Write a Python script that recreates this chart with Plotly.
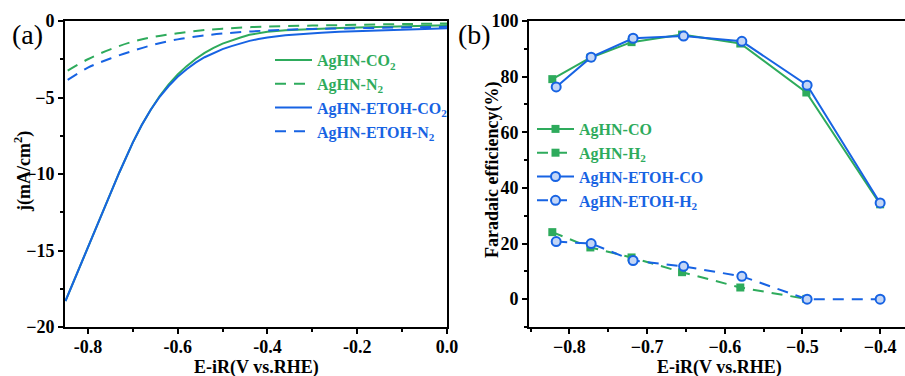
import plotly.graph_objects as go

GREEN = "#2eab5c"
BLUE = "#1763e3"
FONT = "Liberation Serif"

# ---- (a) LSV curves ----
lsv_x = [-0.85, -0.82, -0.79, -0.76, -0.73, -0.70, -0.68, -0.66, -0.64, -0.62,
         -0.60, -0.58, -0.56, -0.54, -0.52, -0.50, -0.48, -0.46, -0.44, -0.42,
         -0.40, -0.36, -0.32, -0.28, -0.24, -0.20, -0.15, -0.10, -0.05, 0.0]
aghn_co2 = [-18.3, -16.2, -14.1, -12.0, -9.9, -7.95, -6.8, -5.8, -4.9, -4.15,
            -3.5, -2.95, -2.48, -2.08, -1.75, -1.48, -1.26, -1.08, -0.9, -0.79,
            -0.71, -0.6, -0.54, -0.49, -0.45, -0.42, -0.38, -0.34, -0.3, -0.27]
aghn_etoh_co2 = [-18.3, -16.2, -14.1, -12.0, -9.9, -7.95, -6.8, -5.8, -4.95, -4.25,
                 -3.65, -3.15, -2.72, -2.37, -2.08, -1.84, -1.64, -1.45, -1.3, -1.18,
                 -1.08, -0.93, -0.83, -0.76, -0.71, -0.66, -0.61, -0.56, -0.52, -0.48]

lsv_x_n2 = [-0.845, -0.80, -0.75, -0.70, -0.65, -0.60, -0.55, -0.50, -0.40, -0.30, -0.20, -0.10, 0.0]
aghn_n2 = [-3.25, -2.5, -1.85, -1.35, -1.02, -0.8, -0.62, -0.5, -0.36, -0.3, -0.25, -0.2, -0.16]
aghn_etoh_n2 = [-3.85, -3.05, -2.45, -1.95, -1.52, -1.2, -0.98, -0.82, -0.62, -0.52, -0.47, -0.42, -0.38]

# ---- (b) Faradaic efficiency ----
fe_x_aghn = [-0.822, -0.773, -0.720, -0.655, -0.580, -0.495, -0.400]
fe_co_aghn = [79.1, 86.8, 92.4, 95.1, 91.9, 74.3, 34.1]
fe_x_aghn_h2 = [-0.822, -0.773, -0.720, -0.655, -0.580, -0.495]
fe_h2_aghn = [24.1, 18.6, 15.0, 9.7, 4.2, 0.1]

fe_x_etoh = [-0.817, -0.772, -0.718, -0.653, -0.578, -0.494, -0.400]
fe_co_etoh = [76.3, 87.0, 93.8, 94.6, 92.7, 76.9, 34.6]
fe_h2_etoh = [20.7, 20.0, 13.9, 11.8, 8.2, 0.0, 0.0]


def label(text, color):
    return f"<span style='color:{color}'><b>{text}</b></span>"


DASH = "11px,8px"
fig = go.Figure()

# panel (a)
fig.add_trace(go.Scatter(x=lsv_x, y=aghn_co2, mode="lines", line=dict(color=GREEN, width=2),
                         name=label("AgHN-CO<sub>2</sub>", GREEN), xaxis="x", yaxis="y", legend="legend"))
fig.add_trace(go.Scatter(x=lsv_x_n2, y=aghn_n2, mode="lines", line=dict(color=GREEN, width=2, dash=DASH, shape="spline"),
                         name=label("AgHN-N<sub>2</sub>", GREEN), xaxis="x", yaxis="y", legend="legend"))
fig.add_trace(go.Scatter(x=lsv_x, y=aghn_etoh_co2, mode="lines", line=dict(color=BLUE, width=2),
                         name=label("AgHN-ETOH-CO<sub>2</sub>", BLUE), xaxis="x", yaxis="y", legend="legend"))
fig.add_trace(go.Scatter(x=lsv_x_n2, y=aghn_etoh_n2, mode="lines", line=dict(color=BLUE, width=2, dash=DASH, shape="spline"),
                         name=label("AgHN-ETOH-N<sub>2</sub>", BLUE), xaxis="x", yaxis="y", legend="legend"))

# panel (b)
sq = dict(symbol="square", size=8, color=GREEN)
circ = dict(symbol="circle", size=9, color="#c4d6f6", line=dict(color=BLUE, width=2))
fig.add_trace(go.Scatter(x=fe_x_aghn, y=fe_co_aghn, mode="lines+markers", line=dict(color=GREEN, width=2), marker=sq,
                         name=label("AgHN-CO", GREEN), xaxis="x2", yaxis="y2", legend="legend2"))
fig.add_trace(go.Scatter(x=fe_x_aghn_h2, y=fe_h2_aghn, mode="lines+markers", line=dict(color=GREEN, width=2, dash=DASH), marker=sq,
                         name=label("AgHN-H<sub>2</sub>", GREEN), xaxis="x2", yaxis="y2", legend="legend2"))
fig.add_trace(go.Scatter(x=fe_x_etoh, y=fe_co_etoh, mode="lines+markers", line=dict(color=BLUE, width=2), marker=circ,
                         name=label("AgHN-ETOH-CO", BLUE), xaxis="x2", yaxis="y2", legend="legend2"))
fig.add_trace(go.Scatter(x=fe_x_etoh, y=fe_h2_etoh, mode="lines+markers", line=dict(color=BLUE, width=2, dash=DASH), marker=circ,
                         name=label("AgHN-ETOH-H<sub>2</sub>", BLUE), xaxis="x2", yaxis="y2", legend="legend2"))

tickfont = dict(family=FONT, size=18, color="black", weight="bold")
axis_common = dict(showline=True, linecolor="black", linewidth=2, mirror=True, ticks="outside",
                   ticklen=5, tickwidth=1.5, tickcolor="black", showgrid=False, zeroline=False,
                   tickfont=tickfont, automargin=False)

W, H = 905, 376
y_top = 1 - 21 / H
y_bot = 1 - 327 / H

fig.update_layout(
    width=W, height=H,
    margin=dict(l=0, r=0, t=0, b=0),
    paper_bgcolor="white", plot_bgcolor="white",
    font=dict(family=FONT),
    xaxis=dict(domain=[65 / W, 447 / W], anchor="y", range=[-0.851, 0.0],
               tickvals=[-0.8, -0.6, -0.4, -0.2, 0.0], ticktext=["-0.8", "-0.6", "-0.4", "-0.2", "0.0"],
               minor=dict(dtick=0.1, tick0=0, ticks="outside", ticklen=3, tickcolor="black"),
               ticklabelstandoff=-3, **axis_common),
    yaxis=dict(domain=[y_bot, y_top], anchor="x", range=[-20, 0], dtick=5,
               minor=dict(dtick=2.5, ticks="outside", ticklen=3, tickcolor="black"),
               **axis_common),
    xaxis2=dict(domain=[529 / W, 1.0], anchor="y2", range=[-0.852, -0.368],
                tickvals=[-0.8, -0.7, -0.6, -0.5, -0.4],
                minor=dict(dtick=0.05, tick0=0, ticks="outside", ticklen=3, tickcolor="black"),
                ticklabelstandoff=-3, **axis_common),
    yaxis2=dict(domain=[y_bot, y_top], anchor="x2", range=[-10, 100], tickvals=[0, 20, 40, 60, 80, 100],
                minor=dict(tickvals=[-10, 10, 30, 50, 70, 90], ticks="outside", ticklen=3, tickcolor="black"),
                **axis_common),
    legend=dict(x=270 / W, y=1 - 43 / H, xanchor="left", yanchor="top", bgcolor="rgba(0,0,0,0)",
                font=dict(family=FONT, size=16), itemwidth=37, tracegroupgap=0),
    legend2=dict(x=532 / W, y=1 - 112 / H, xanchor="left", yanchor="top", bgcolor="rgba(0,0,0,0)",
                 font=dict(family=FONT, size=16), itemwidth=37, tracegroupgap=0),
    showlegend=True,
)

# axis titles and panel letters
def text_at(text, x, y, size, angle=0, bold=True):
    fig.add_annotation(text=f"<b>{text}</b>" if bold else text, x=x / W, y=1 - y / H,
                       xref="paper", yref="paper", xanchor="center", yanchor="middle",
                       showarrow=False, textangle=angle,
                       font=dict(family=FONT, size=size, color="black"))

text_at("E-iR(V vs.RHE)", 256, 367, 18)
text_at("E-iR(V vs.RHE)", 719, 367, 18)
text_at("j(mA/cm<sup>2</sup>)", 23, 172, 18, angle=-90)
text_at("Faradaic efficiency(%)", 492, 170, 18, angle=-90)
text_at("(a)", 27, 34, 28, bold=False)
text_at("(b)", 474, 34, 28, bold=False)

fig.write_html("out.html")
